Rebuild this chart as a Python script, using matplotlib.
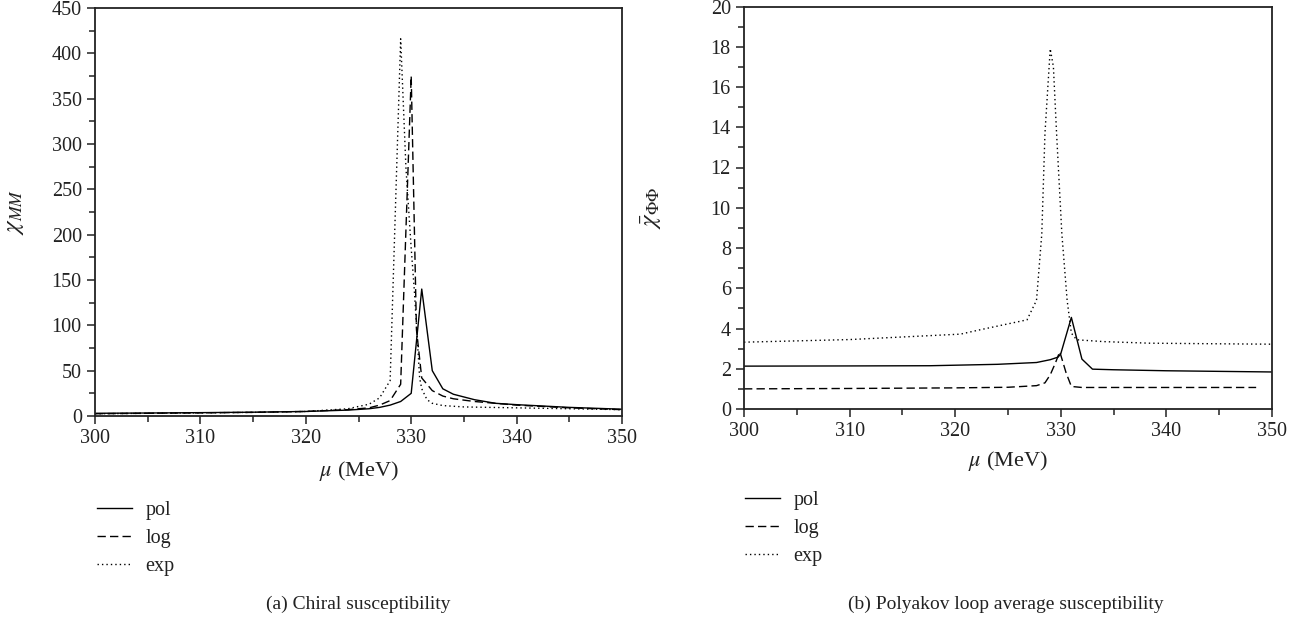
import matplotlib
matplotlib.use("Agg")
from matplotlib import pyplot as plt
from matplotlib.ticker import MultipleLocator

# (a) chiral susceptibility
mu_pol_a = [300, 305, 310, 315, 320, 324, 326, 327, 328, 329, 330, 331, 332, 333, 334, 336, 338, 340, 345, 350]
chi_pol_a = [3, 3.3, 3.7, 4.2, 5, 6.5, 8, 9.5, 12, 16, 25, 140, 50, 30, 24, 18, 14, 12.5, 9.5, 7.5]
mu_log_a = [300, 305, 310, 315, 320, 324, 326, 327, 328, 329, 330, 330.5, 331, 332, 333, 334, 336, 338, 340, 345, 350]
chi_log_a = [2.5, 3, 3.5, 4, 5, 7, 9, 12, 17, 35, 375, 95, 42, 28, 22, 19, 16, 14, 12, 9, 7]
mu_exp_a = [300, 305, 310, 315, 320, 324, 326, 327, 328, 329, 329.5, 330, 330.3, 330.5, 330.8, 331, 331.5, 332, 333, 335, 340, 345, 350]
chi_exp_a = [2.5, 3, 3.5, 4, 5, 8, 13, 20, 39, 416, 274, 185, 138, 100, 42, 30, 18, 14, 11.5, 10, 9, 8, 7]

# (b) Polyakov loop average susceptibility
mu_pol_b = [300, 310, 317.6, 324, 327.7, 329, 329.75, 330, 331, 332, 333, 335, 340, 345, 350]
chi_pol_b = [2.13, 2.14, 2.15, 2.22, 2.31, 2.45, 2.58, 2.75, 4.55, 2.48, 1.98, 1.95, 1.9, 1.87, 1.84]
mu_log_b = [300, 310, 320, 325, 327.7, 328.5, 329, 329.5, 329.9, 330.5, 331, 332, 335, 340, 345, 348.5]
chi_log_b = [1.0, 1.02, 1.05, 1.08, 1.16, 1.3, 1.7, 2.3, 2.85, 1.8, 1.12, 1.07, 1.07, 1.07, 1.07, 1.07]
mu_exp_b = [300, 310, 320.5, 322.3, 326.8, 327.7, 328.2, 328.5, 329, 329.3, 329.6, 330.1, 330.6, 331, 331.5, 334, 338.4, 345, 350]
chi_exp_b = [3.32, 3.45, 3.72, 3.93, 4.43, 5.4, 8.7, 13.7, 17.9, 17.0, 13.7, 8.7, 5.4, 3.77, 3.44, 3.35, 3.27, 3.24, 3.22]

labels = ["pol", "log", "exp"]

plt.rcParams['font.family'] = ['Liberation Serif', 'DejaVu Serif']
plt.rcParams['mathtext.fontset'] = 'stix'

ink = '#222222'
styles = ['-', (0, (6, 3)), (0, (1, 2.2))]

fig = plt.figure(figsize=(13.09, 6.24), dpi=100)
ax1 = fig.add_axes([95 / 1309, 1 - 416 / 624, 527 / 1309, 408 / 624])
ax2 = fig.add_axes([744 / 1309, 1 - 409 / 624, 528 / 1309, 402.5 / 624])

series_a = [(mu_pol_a, chi_pol_a), (mu_log_a, chi_log_a), (mu_exp_a, chi_exp_a)]
series_b = [(mu_pol_b, chi_pol_b), (mu_log_b, chi_log_b), (mu_exp_b, chi_exp_b)]

for ax, series in [(ax1, series_a), (ax2, series_b)]:
    for (x, y), ls, lab in zip(series, styles, labels):
        ax.plot(x, y, color='black', lw=1.0, linestyle=ls, label=lab)
    ax.set_xlim(300, 350)
    ax.xaxis.set_major_locator(MultipleLocator(10))
    ax.xaxis.set_minor_locator(MultipleLocator(5))
    ax.tick_params(which='both', direction='out', colors=ink, labelsize=14.5, width=1.1)
    ax.tick_params(which='major', length=6)
    ax.tick_params(which='minor', length=4)
    for s in ax.spines.values():
        s.set_color(ink)
        s.set_linewidth(1.3)
    ax.set_xlabel(r'$\mu$ (MeV)', fontsize=16, color=ink)

ax1.set_ylim(0, 450)
ax1.yaxis.set_major_locator(MultipleLocator(50))
ax1.yaxis.set_minor_locator(MultipleLocator(25))
ax1.set_ylabel(r'$\chi_{MM}$', fontsize=18, color=ink)
ax1.xaxis.set_label_coords(0.5, -0.105)
ax1.yaxis.set_label_coords(-0.13, 0.5)

ax2.set_ylim(0, 20)
ax2.yaxis.set_major_locator(MultipleLocator(2))
ax2.yaxis.set_minor_locator(MultipleLocator(1))
ax2.set_ylabel(r'$\bar{\chi}_{\Phi\Phi}$', fontsize=18, color=ink)
ax2.xaxis.set_label_coords(0.5, -0.1)
ax2.yaxis.set_label_coords(-0.152, 0.5)

leg_kw = dict(loc='upper left', frameon=False, fontsize=14.5, borderpad=0, borderaxespad=0,
              handlelength=1.75, handletextpad=0.65, labelspacing=0.45)
l1 = ax1.legend(bbox_to_anchor=(0.004, -0.208), **leg_kw)
l2 = ax2.legend(bbox_to_anchor=(0.002, -0.203), **leg_kw)
for lg in (l1, l2):
    for t in lg.get_texts():
        t.set_color(ink)

fig.text(358 / 1309, 1 - 604 / 624, '(a) Chiral susceptibility', ha='center', va='center',
         fontsize=14, color=ink)
fig.text(1006 / 1309, 1 - 604 / 624, '(b) Polyakov loop average susceptibility', ha='center',
         va='center', fontsize=14, color=ink)

fig.savefig('out.png', dpi=100)
